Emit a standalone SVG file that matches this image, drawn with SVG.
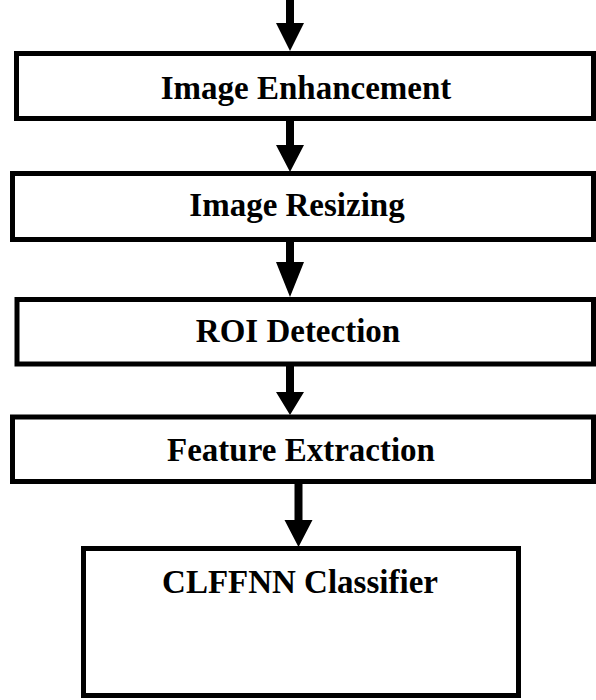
<svg xmlns="http://www.w3.org/2000/svg" width="596" height="700" viewBox="0 0 596 700">
<style>
.box{fill:#fff;stroke:#000;stroke-width:5}
.lbl{font-family:"Liberation Serif","Times New Roman",serif;font-weight:bold;font-size:33px;fill:#000;text-anchor:middle}
.arr{fill:#000;stroke:none}
</style>
<rect width="596" height="700" fill="#fff"/>
<g id="connectors">
<polygon class="arr" points="286,0 294,0 294,23 304,23 290,51 276,23 286,23"/>
<polygon class="arr" points="286,121 294,121 294,145 304,145 290,172 276,145 286,145"/>
<polygon class="arr" points="286,242 294,242 294,262 304,262 290,297 276,262 286,262"/>
<polygon class="arr" points="286,366 294,366 294,392 304,392 290,415 276,392 286,392"/>
<polygon class="arr" points="294.5,484 302.5,484 302.5,520 312.5,520 298.5,547 284.5,520 294.5,520"/>
</g>
<g id="enhancement">
<rect class="box" x="16.5" y="53.5" width="577" height="65"/>
<text class="lbl" x="306" y="99">Image Enhancement</text>
</g>
<g id="resizing">
<rect class="box" x="12.5" y="173.5" width="581" height="66"/>
<text class="lbl" x="297" y="216">Image Resizing</text>
</g>
<g id="roi">
<rect class="box" x="17" y="299.5" width="576.5" height="64.5"/>
<text class="lbl" x="298" y="342">ROI Detection</text>
</g>
<g id="feature">
<rect class="box" x="12.5" y="417" width="581" height="64.5"/>
<text class="lbl" x="301" y="461">Feature Extraction</text>
</g>
<g id="classifier">
<rect class="box" x="83.5" y="548.5" width="435" height="147"/>
<text class="lbl" x="300" y="593">CLFFNN Classifier</text>
</g>
</svg>
